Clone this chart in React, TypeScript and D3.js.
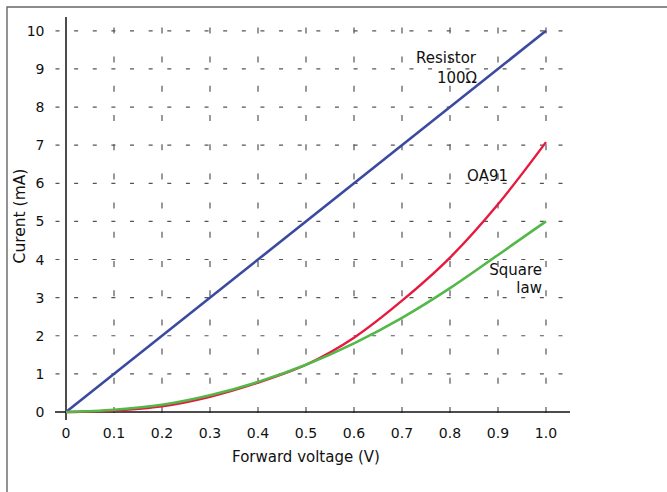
import React from 'react';
import * as d3 from 'd3';

const voltage = [0, 0.1, 0.2, 0.3, 0.4, 0.5, 0.6, 0.7, 0.8, 0.9, 1.0];
const oa91 = [0, 0.04, 0.15, 0.4, 0.77, 1.24, 1.95, 2.92, 4.05, 5.45, 7.08];
const squareLaw = [0, 0.06, 0.19, 0.44, 0.79, 1.24, 1.8, 2.47, 3.25, 4.12, 5.0];
const resistorV = [0, 1.0];
const resistorI = [0, 10];
const xTicks = [0, 0.1, 0.2, 0.3, 0.4, 0.5, 0.6, 0.7, 0.8, 0.9, 1.0];
const yTicks = [0, 1, 2, 3, 4, 5, 6, 7, 8, 9, 10];

const FONT = '"DejaVu Sans", Verdana, sans-serif';

const App = () => {
  const x = d3.scaleLinear().domain([0, 1]).range([66, 546]);
  const y = d3.scaleLinear().domain([0, 10]).range([412, 30.8]);

  const line = d3
    .line<[number, number]>()
    .x(d => x(d[0]))
    .y(d => y(d[1]))
    .curve(d3.curveMonotoneX);

  const redPts = voltage.map((v, i) => [v, oa91[i]] as [number, number]);
  const greenPts = voltage.map((v, i) => [v, squareLaw[i]] as [number, number]);
  const bluePts = resistorV.map((v, i) => [v, resistorI[i]] as [number, number]);

  return (
    <svg
      width={667}
      height={492}
      style={{ position: 'absolute', left: 0, top: 0, background: '#fff' }}
      fontFamily={FONT}
    >
      {/* frame */}
      <path d="M7,500 V7 H700" fill="none" stroke="#666" strokeWidth={1.4} />

      {/* horizontal grid */}
      {yTicks.slice(1).map(t => (
        <line
          key={'h' + t}
          x1={55.5}
          x2={562.5}
          y1={y(t)}
          y2={y(t)}
          stroke="#555"
          strokeWidth={1.2}
          strokeDasharray="4 14.63"
        />
      ))}
      {/* vertical grid */}
      {xTicks.slice(1).map(t => (
        <line
          key={'v' + t}
          x1={x(t)}
          x2={x(t)}
          y1={413}
          y2={27}
          stroke="#555"
          strokeWidth={1.2}
          strokeDasharray="6 23.2"
        />
      ))}

      {/* axes */}
      <line x1={55} x2={570} y1={y(0)} y2={y(0)} stroke="#111" strokeWidth={1.5} />
      <line x1={x(0)} x2={x(0)} y1={17} y2={420} stroke="#111" strokeWidth={1.5} />

      {/* tick labels */}
      {yTicks.map(t => (
        <text key={'yl' + t} x={44.5} y={y(t) + 5} textAnchor="end" fontSize={14} fill="#111">
          {t}
        </text>
      ))}
      {xTicks.map(t => (
        <text key={'xl' + t} x={x(t)} y={437.5} textAnchor="middle" fontSize={14} fill="#111">
          {t === 0 ? '0' : t.toFixed(1)}
        </text>
      ))}

      {/* axis titles */}
      <text x={306} y={462} textAnchor="middle" fontSize={15} fill="#111">
        Forward voltage (V)
      </text>
      <text
        transform="translate(25,216) rotate(-90)"
        textAnchor="middle"
        fontSize={15.5}
        fill="#111"
      >
        Curent (mA)
      </text>

      {/* curves */}
      <path d={line(bluePts) || ''} fill="none" stroke="#3b4a9f" strokeWidth={2.6} />
      <path d={line(redPts) || ''} fill="none" stroke="#e8193f" strokeWidth={2.4} />
      <path d={line(greenPts) || ''} fill="none" stroke="#52b848" strokeWidth={2.6} />

      {/* series labels */}
      <g fontSize={15} fill="#111" textAnchor="end">
        <text x={476} y={63}>Resistor</text>
        <text x={477} y={83}>100Ω</text>
        <text x={508} y={181}>OA91</text>
        <text x={542} y={275}>Square</text>
        <text x={542} y={293}>law</text>
      </g>
    </svg>
  );
};

export default App;
